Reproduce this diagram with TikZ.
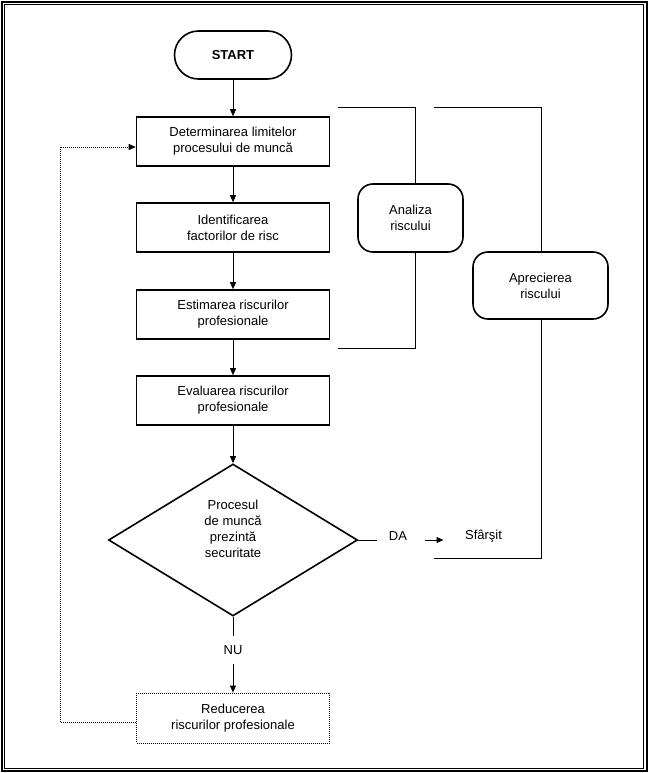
\documentclass[tikz,border=0pt]{standalone}
\usepackage{fontspec}
\setmainfont{Liberation Sans}
\usetikzlibrary{shapes.geometric,arrows.meta}

\begin{document}
\begin{tikzpicture}[x=1pt,y=-1pt,
        txt/.style={font=\fontsize{13}{16}\selectfont, align=center},
        stepbox/.style={txt, draw, line width=1.6pt, minimum width=193pt, minimum height=49pt, inner sep=0pt},
        roundbox/.style={txt, draw, line width=1.6pt, rounded corners=15pt, inner sep=0pt},
        arr/.style={-{Triangle[length=7pt,width=6pt]}, line width=0.8pt},
        line/.style={line width=0.8pt},
        fine/.style={line width=0.8pt, dash pattern=on 1pt off 1pt}]
    \useasboundingbox (0,0) rectangle (648,773);
    % double frame
    \draw[line width=2pt] (1.8,1.8) rectangle (646.6,771.3);
    \draw[line width=0.9pt] (4.4,4.4) rectangle (643.8,768.1);
    % main column
    \node[roundbox, rounded corners=24pt, minimum width=117pt, minimum height=48pt, font=\fontsize{13}{16}\selectfont\bfseries] (start) at (233,55) {START};
    \node[stepbox] (limits) at (233,141.5) {Determinarea limitelor\\procesului de muncă};
    \node[stepbox] (ident) at (233,227.5) {Identificarea\\factorilor de risc};
    \node[stepbox] (estim) at (233,314.5) {Estimarea riscurilor\\profesionale};
    \node[stepbox] (evalr) at (233,400.5) {Evaluarea riscurilor\\profesionale};
    \node[draw, diamond, line width=1.6pt, minimum width=249pt, minimum height=152pt, inner sep=0pt] (decis) at (233,540) {};
    \node[txt] (question) at (233,529) {Procesul\\de muncă\\prezintă\\securitate};
    \node[txt] (nu) at (233,650) {NU};
    \node[stepbox, line width=0.8pt, dash pattern=on 1pt off 1pt, minimum height=50pt] (reduc) at (233,718) {Reducerea\\riscurilor profesionale};
    \draw[arr] (start) -- (limits);
    \draw[arr] (limits) -- (ident);
    \draw[arr] (ident) -- (estim);
    \draw[arr] (estim) -- (evalr);
    \draw[arr] (evalr) -- (decis);
    \draw[line, shorten >=14pt] (decis.south) -- (nu.center);
    \draw[arr, shorten <=14pt] (nu.center) -- (reduc);
    % DA branch
    \node[txt] (da) at (398,536.5) {DA};
    \node[txt] (sfarsit) at (483.5,536.5) {Sfârşit};
    \draw[line, shorten >=21pt] (decis.east) -- (da.center |- decis.east);
    \draw[arr, shorten <=27pt, shorten >=40pt] (da.center |- decis.east) -- (sfarsit.center |- decis.east);
    % feedback loop
    \draw[arr, fine] ([yshift=-4pt]reduc.west) -- ++(-76,0) |- ([yshift=-5.5pt]limits.west);
    % brackets
    \node[roundbox, minimum width=105pt, minimum height=68pt] (analiza) at (410.5,218) {Analiza\\riscului};
    \node[roundbox, minimum width=135pt, minimum height=67pt] (aprec) at (540.5,285.5) {Aprecierea\\riscului};
    \coordinate (an1) at (338,107);
    \coordinate (an2) at (415,107);
    \coordinate (an3) at (415,348);
    \coordinate (an4) at (338,348);
    \draw[line] (an1) -- (an2) -- (an2 |- analiza.north);
    \draw[line] (an3 |- analiza.south) -- (an3) -- (an4);
    \coordinate (ap1) at (434,107);
    \coordinate (ap2) at (541,107);
    \coordinate (ap3) at (541,558);
    \coordinate (ap4) at (434,558);
    \draw[line] (ap1) -- (ap2) -- (ap2 |- aprec.north);
    \draw[line] (ap3 |- aprec.south) -- (ap3) -- (ap4);
\end{tikzpicture}
\end{document}
